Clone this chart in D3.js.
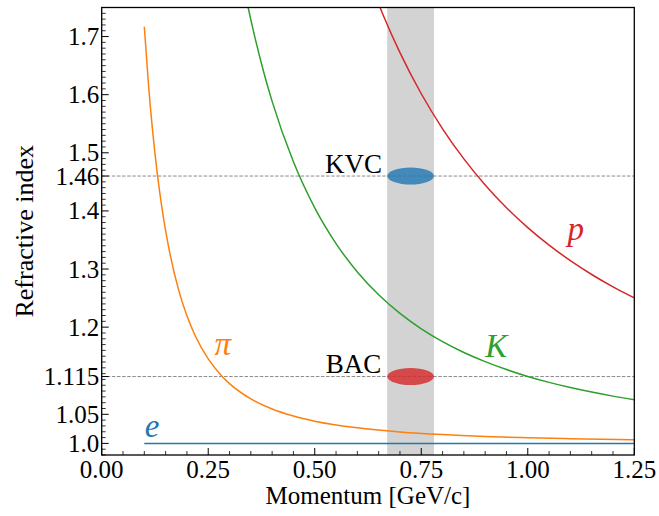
<!DOCTYPE html>
<html>
<head>
<meta charset="utf-8">
<script src="https://cdn.jsdelivr.net/npm/d3@7/dist/d3.min.js"></script>
<style>
  html, body { margin: 0; padding: 0; background: #ffffff; }
  svg { display: block; }
  text { font-family: "Liberation Serif", "Times New Roman", serif; fill: #000; }
</style>
</head>
<body>
<svg id="chart" width="659" height="516"></svg>
<script>
// ---------------- data ----------------
const xTicks = [0.00, 0.25, 0.50, 0.75, 1.00, 1.25];
const xTickLabels = ["0.00", "0.25", "0.50", "0.75", "1.00", "1.25"];
const yTicks = [1.0, 1.05, 1.115, 1.2, 1.3, 1.4, 1.46, 1.5, 1.6, 1.7];
const yTickLabels = ["1.0", "1.05", "1.115", "1.2", "1.3", "1.4", "1.46", "1.5", "1.6", "1.7"];

const eP  = [0.10, 1.25];
const eN  = [1.0000, 1.0000];
const piP = [0.10, 0.11, 0.12, 0.13, 0.14, 0.15, 0.16, 0.18, 0.20, 0.22, 0.25, 0.28, 0.30, 0.35, 0.40, 0.45, 0.50, 0.60, 0.70, 0.80, 0.90, 1.00, 1.10, 1.25];
const piN = [1.717, 1.6155, 1.5339, 1.4672, 1.4121, 1.3659, 1.3270, 1.2654, 1.2194, 1.1843, 1.1453, 1.1174, 1.1029, 1.0766, 1.0591, 1.0470, 1.0382, 1.0267, 1.0197, 1.0151, 1.0119, 1.0097, 1.0080, 1.0062];
const kP  = [0.30, 0.34, 0.36, 0.38, 0.40, 0.45, 0.50, 0.55, 0.60, 0.65, 0.70, 0.75, 0.80, 0.85, 0.90, 0.95, 1.00, 1.05, 1.10, 1.15, 1.20, 1.25];
const kN  = [1.9256, 1.7630, 1.6972, 1.6395, 1.5885, 1.4845, 1.4053, 1.3438, 1.2950, 1.2557, 1.2237, 1.1972, 1.1751, 1.1564, 1.1406, 1.1270, 1.1152, 1.1050, 1.0961, 1.0883, 1.0813, 1.0752];
const prP = [0.62, 0.64, 0.66, 0.70, 0.75, 0.80, 0.85, 0.90, 0.95, 1.00, 1.05, 1.10, 1.15, 1.20, 1.25];
const prN = [1.8139, 1.7746, 1.7381, 1.6723, 1.6016, 1.5413, 1.4895, 1.4446, 1.4055, 1.3713, 1.3411, 1.3144, 1.2906, 1.2694, 1.2504];

const curveNames  = ["e", "pi", "K", "p"];
const curveColors = ["#1f77b4", "#ff7f0e", "#2ca02c", "#d62728"];

const bandRange = [0.67, 0.78];
const detectorNames = ["KVC", "BAC"];
const detectorIndex = [1.46, 1.115];
const detectorColors = ["#1f77b4", "#d62728"];
const ellipseCenterP = 0.725;
const ellipseHalfWidthP = 0.0547;
const ellipseHalfHeightN = 0.0146;

const particleLabels = ["e", "π", "K", "p"];
const particleLabelP = [0.101, 0.265, 0.900, 1.093];
const particleLabelN = [1.011, 1.152, 1.149, 1.350];
const detectorLabelP = [0.658, 0.656];
const detectorLabelN = [1.465, 1.121];

// ---------------- layout ----------------
const W = 659, H = 516;
const margin = { left: 101.7, right: 24.7, top: 7.5, bottom: 61 };
const x = d3.scaleLinear().domain([0, 1.25]).range([margin.left, W - margin.right]);
const y = d3.scaleLinear().domain([0.98, 1.75]).range([H - margin.bottom, margin.top]);

const svg = d3.select("#chart");

svg.append("defs").append("clipPath").attr("id", "plotclip")
  .append("rect")
  .attr("x", x(0)).attr("y", y(1.75))
  .attr("width", x(1.25) - x(0)).attr("height", y(0.98) - y(1.75));

const plot = svg.append("g").attr("clip-path", "url(#plotclip)");

// gray band
plot.append("rect")
  .attr("x", x(bandRange[0])).attr("y", y(1.75))
  .attr("width", x(bandRange[1]) - x(bandRange[0]))
  .attr("height", y(0.98) - y(1.75))
  .attr("fill", "#d3d3d3");

// dashed reference lines
plot.selectAll("line.ref").data(detectorIndex).join("line")
  .attr("class", "ref")
  .attr("x1", x(0)).attr("x2", x(1.25))
  .attr("y1", d => y(d)).attr("y2", d => y(d))
  .attr("stroke", "#8c8c8c").attr("stroke-width", 1)
  .attr("stroke-dasharray", "3.5,1.6");

// ellipses
plot.selectAll("ellipse").data(detectorIndex).join("ellipse")
  .attr("cx", x(ellipseCenterP))
  .attr("cy", d => y(d))
  .attr("rx", x(ellipseHalfWidthP) - x(0))
  .attr("ry", y(1) - y(1 + ellipseHalfHeightN))
  .attr("fill", (d, i) => detectorColors[i])
  .attr("fill-opacity", 0.8);

// curves
const series = [
  eP.map((p, i) => [p, eN[i]]),
  piP.map((p, i) => [p, piN[i]]),
  kP.map((p, i) => [p, kN[i]]),
  prP.map((p, i) => [p, prN[i]])
];
const line = d3.line().x(d => x(d[0])).y(d => y(d[1])).curve(d3.curveMonotoneX);
plot.selectAll("path.curve").data(series).join("path")
  .attr("class", "curve")
  .attr("d", line)
  .attr("fill", "none")
  .attr("stroke", (d, i) => curveColors[i])
  .attr("stroke-width", 1.5);

// axes ticks (inward)
const axisG = svg.append("g");
const xMinor = d3.range(0, 1.2501, 0.05).filter(v => !xTicks.some(t => Math.abs(t - v) < 1e-6));
const yMinor = d3.range(0.98, 1.7501, 0.01).filter(v => !yTicks.some(t => Math.abs(t - v) < 1e-6));

axisG.selectAll("line.xmaj").data(xTicks).join("line")
  .attr("x1", d => x(d)).attr("x2", d => x(d))
  .attr("y1", y(0.98)).attr("y2", y(0.98) - 7)
  .attr("stroke", "#000").attr("stroke-width", 1);
axisG.selectAll("line.xmin").data(xMinor).join("line")
  .attr("x1", d => x(d)).attr("x2", d => x(d))
  .attr("y1", y(0.98)).attr("y2", y(0.98) - 4)
  .attr("stroke", "#000").attr("stroke-width", 0.8);
axisG.selectAll("line.ymaj").data(yTicks).join("line")
  .attr("x1", x(0)).attr("x2", x(0) + 7)
  .attr("y1", d => y(d)).attr("y2", d => y(d))
  .attr("stroke", "#000").attr("stroke-width", 1);
axisG.selectAll("line.ymin").data(yMinor).join("line")
  .attr("x1", x(0)).attr("x2", x(0) + 4)
  .attr("y1", d => y(d)).attr("y2", d => y(d))
  .attr("stroke", "#000").attr("stroke-width", 0.8);

// frame
svg.append("rect")
  .attr("x", x(0)).attr("y", y(1.75))
  .attr("width", x(1.25) - x(0)).attr("height", y(0.98) - y(1.75))
  .attr("fill", "none").attr("stroke", "#000").attr("stroke-width", 1.3);

// tick labels
svg.selectAll("text.xtl").data(xTicks).join("text")
  .attr("class", "xtl")
  .attr("x", d => x(d)).attr("y", y(0.98) + 23)
  .attr("text-anchor", "middle").attr("font-size", 25)
  .text((d, i) => xTickLabels[i]);
svg.selectAll("text.ytl").data(yTicks).join("text")
  .attr("class", "ytl")
  .attr("x", x(0) - 2.5).attr("y", d => y(d) + 8.5)
  .attr("text-anchor", "end").attr("font-size", 25)
  .text((d, i) => yTickLabels[i]);

// axis titles
svg.append("text")
  .attr("x", (x(0) + x(1.25)) / 2).attr("y", 504)
  .attr("text-anchor", "middle").attr("font-size", 25)
  .text("Momentum [GeV/c]");
svg.append("text")
  .attr("transform", `translate(33,${(y(0.98) + y(1.75)) / 2}) rotate(-90)`)
  .attr("text-anchor", "middle").attr("font-size", 26)
  .text("Refractive index");

// detector labels
svg.selectAll("text.det").data(detectorNames).join("text")
  .attr("class", "det")
  .attr("x", (d, i) => x(detectorLabelP[i])).attr("y", (d, i) => y(detectorLabelN[i]))
  .attr("text-anchor", "end").attr("font-size", 27)
  .text(d => d);

// particle labels
svg.selectAll("text.part").data(particleLabels).join("text")
  .attr("class", "part")
  .attr("x", (d, i) => x(particleLabelP[i])).attr("y", (d, i) => y(particleLabelN[i]))
  .attr("font-size", 33).attr("font-style", "italic")
  .style("fill", (d, i) => curveColors[i])
  .text(d => d);
</script>
</body>
</html>
